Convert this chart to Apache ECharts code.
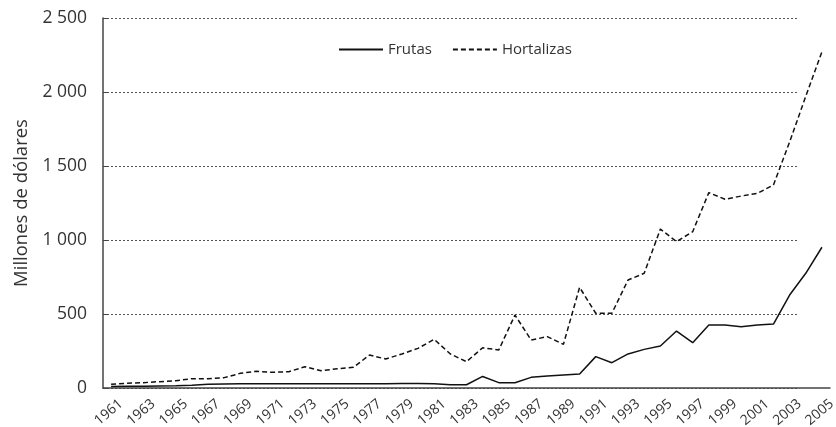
<!DOCTYPE html>
<html>
<head>
<meta charset="utf-8">
<script src="https://cdn.jsdelivr.net/npm/echarts@6/dist/echarts.min.js"></script>
<style>html,body{margin:0;padding:0;background:#fff}#c{width:836px;height:427px}</style>
</head>
<body>
<div id="c"></div>
<script>
const years = [];
for (let y = 1961; y <= 2005; y++) years.push(String(y));

const frutas = [10, 12, 12, 14, 15, 18, 25, 27, 28, 28, 28, 28, 28, 28, 28, 28, 28, 28, 30, 30, 28, 22, 22,
  78, 36, 36, 72, 81, 88, 95, 212, 171, 230, 261, 284, 385, 306, 426, 426, 414, 426, 432, 628, 775, 951];
const hortalizas = [25, 32, 36, 43, 49, 63, 63, 70, 99, 113, 106, 110, 144, 117, 130, 140, 223, 196, 230, 268,
  329, 230, 178, 272, 257, 493, 324, 347, 295, 680, 505, 505, 730, 775, 1074, 989, 1056, 1320, 1275, 1297,
  1315, 1372, 1662, 1971, 2272];
const yTicks = [0, 500, 1000, 1500, 2000, 2500];

const font = 'Open Sans';
const fmt = v => String(v).replace(/\B(?=(\d{3})+(?!\d))/g, ' ');

const chart = echarts.init(document.getElementById('c'));
chart.setOption({
  animation: false,
  backgroundColor: '#fff',
  textStyle: { fontFamily: font, color: '#333' },
  legend: {
    left: 333, top: 37,
    itemWidth: 44, itemHeight: 10, itemGap: 20,
    itemStyle: { opacity: 0 },
    textStyle: { fontSize: 15, color: '#333', fontFamily: font },
    data: ['Frutas', 'Hortalizas']
  },
  grid: [
    // plot area
    { left: 103, width: 727, top: 18, bottom: 39, outerBoundsMode: 'none', containLabel: false },
    // grid lines (shorter than the x axis, as in the original)
    { left: 103, width: 694, top: 18, bottom: 39, outerBoundsMode: 'none', containLabel: false },
    // year labels (slightly offset to the right, as in the original)
    { left: 113, width: 727, top: 18, bottom: 39, outerBoundsMode: 'none', containLabel: false }
  ],
  xAxis: [
    {
      type: 'category', data: years, gridIndex: 0, boundaryGap: true,
      axisLine: { lineStyle: { color: '#444', width: 1.5 } },
      axisTick: { show: false },
      axisLabel: { show: false },
      splitLine: { show: false }
    },
    { type: 'value', gridIndex: 1, min: 0, max: 1, show: false },
    {
      type: 'category', data: years, gridIndex: 2, boundaryGap: true,
      axisLine: { show: false }, axisTick: { show: false }, splitLine: { show: false },
      axisLabel: {
        interval: 1, rotate: 40, fontSize: 14, color: '#333', margin: 14, fontFamily: font,
        showMinLabel: true, showMaxLabel: true, hideOverlap: false
      }
    }
  ],
  yAxis: [
    {
      type: 'value', gridIndex: 0, min: yTicks[0], max: yTicks[yTicks.length - 1], interval: yTicks[1] - yTicks[0],
      name: 'Millones de dólares', nameLocation: 'middle', nameGap: 72,
      nameTextStyle: { fontSize: 18.5, color: '#333', fontFamily: font },
      axisLine: { show: true, lineStyle: { color: '#444', width: 1.5 } },
      axisTick: { show: true, inside: true, length: 5, lineStyle: { color: '#444' } },
      axisLabel: { fontSize: 17.5, color: '#333', margin: 16, formatter: fmt, fontFamily: font },
      splitLine: { show: false }
    },
    {
      type: 'value', gridIndex: 1, min: yTicks[0], max: yTicks[yTicks.length - 1], interval: yTicks[1] - yTicks[0],
      axisLine: { show: false }, axisTick: { show: false }, axisLabel: { show: false },
      splitLine: { show: true, lineStyle: { color: '#555', width: 1, type: [2, 2] } }
    },
    { type: 'value', gridIndex: 2, min: 0, max: 1, show: false }
  ],
  series: [
    {
      name: 'Frutas', type: 'line', data: frutas, xAxisIndex: 0, yAxisIndex: 0,
      symbol: 'none', lineStyle: { color: '#111', width: 1.5 }, itemStyle: { color: '#111' }
    },
    {
      name: 'Hortalizas', type: 'line', data: hortalizas, xAxisIndex: 0, yAxisIndex: 0,
      symbol: 'none', lineStyle: { color: '#111', width: 1.5, type: [5, 3] }, itemStyle: { color: '#111' }
    }
  ]
});
</script>
</body>
</html>
